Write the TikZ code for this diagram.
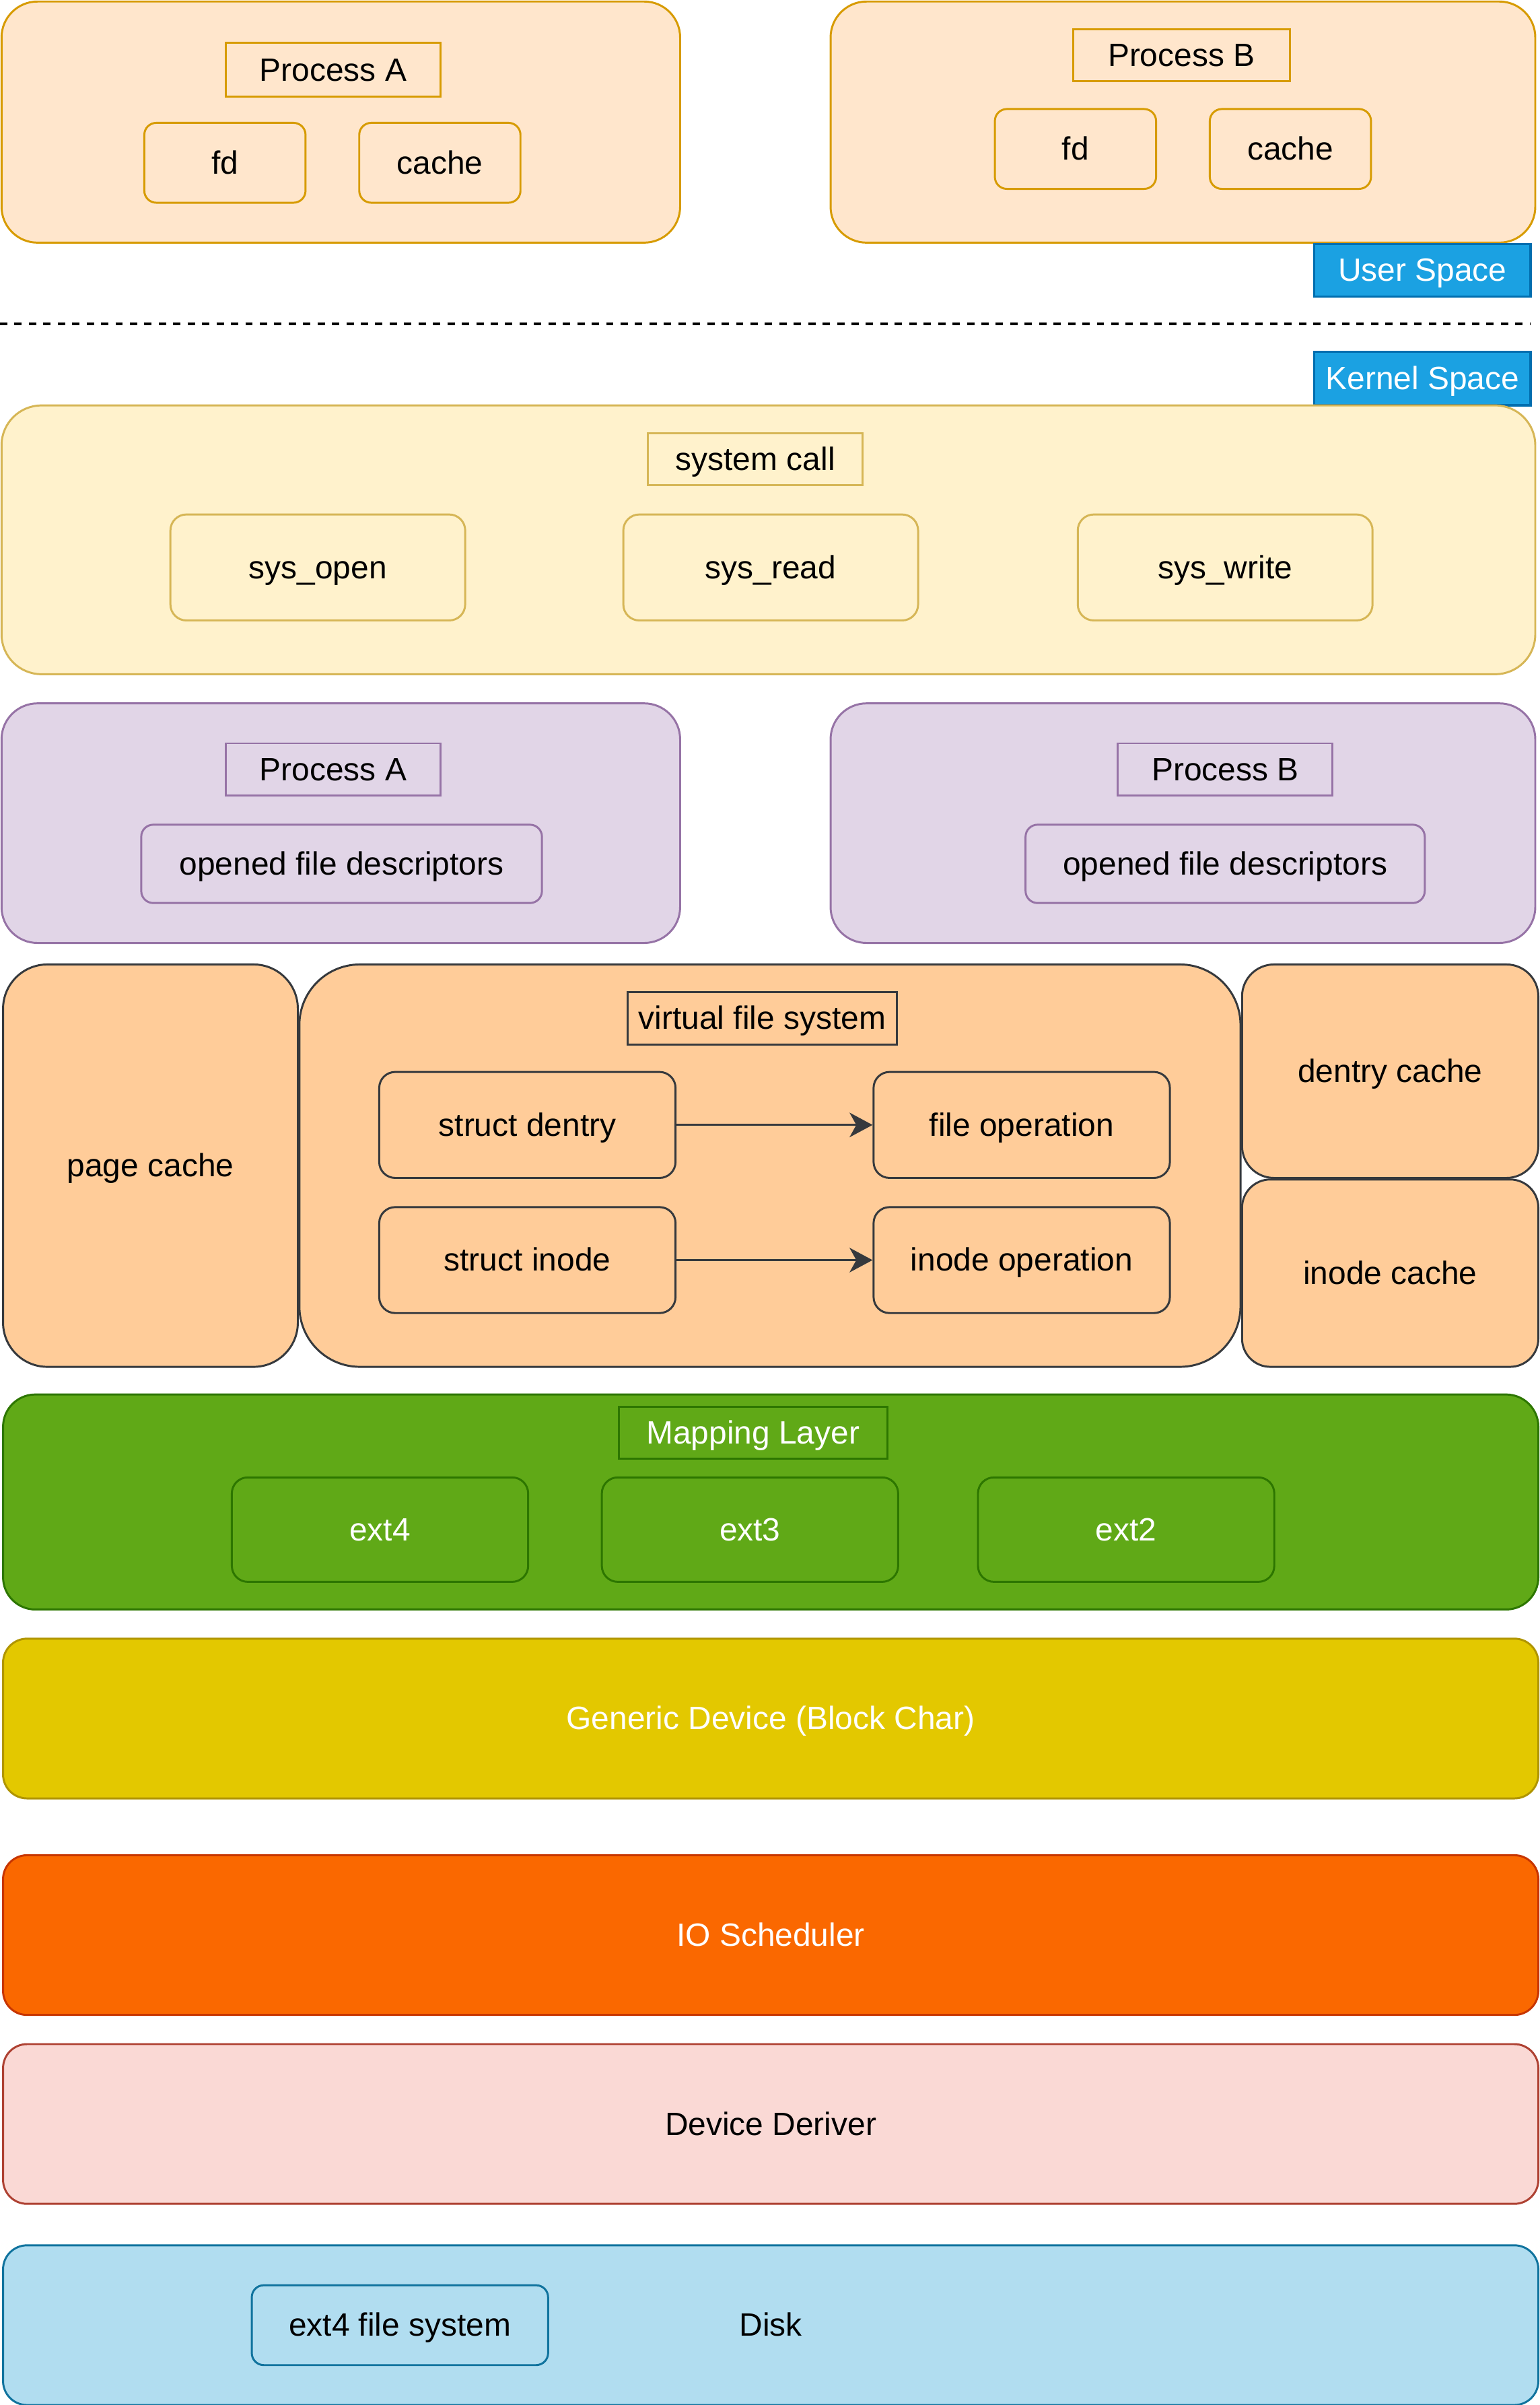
\documentclass[tikz,border=0pt]{standalone}
\usepackage{fontspec}
\setmainfont{Liberation Sans}
\usetikzlibrary{arrows.meta}
\definecolor{usrfill}{HTML}{FFE6CC}
\definecolor{usrline}{HTML}{D79B00}
\definecolor{sysfill}{HTML}{FFF2CC}
\definecolor{sysline}{HTML}{D6B656}
\definecolor{fdfill}{HTML}{E1D5E7}
\definecolor{fdline}{HTML}{9673A6}
\definecolor{vfsfill}{HTML}{FFCC99}
\definecolor{vfsline}{HTML}{36393D}
\definecolor{mapfill}{HTML}{60A917}
\definecolor{mapline}{HTML}{2D7600}
\definecolor{genfill}{HTML}{E3C800}
\definecolor{genline}{HTML}{B09500}
\definecolor{iofill}{HTML}{FA6800}
\definecolor{ioline}{HTML}{C73500}
\definecolor{devfill}{HTML}{FAD9D5}
\definecolor{devline}{HTML}{AE4132}
\definecolor{diskfill}{HTML}{B1DDF0}
\definecolor{diskline}{HTML}{10739E}
\definecolor{spacefill}{HTML}{1BA1E2}
\definecolor{spaceline}{HTML}{006EAF}

\tikzset{sz/.style 2 args={minimum width={#1*0.5pt},minimum height={#2*0.5pt}}}
\tikzstyle{layer}=[draw,rectangle,line width=0.65pt,inner sep=0pt,text height=8.4pt,text depth=1.2pt]
\tikzstyle{outerbox}=[layer,rounded corners=11.7pt]
\tikzstyle{midbox}=[layer,rounded corners=5.2pt]
\tikzstyle{smallbox}=[layer,rounded corners=3.9pt]
\tikzstyle{band}=[layer,rounded corners=7.8pt]
\tikzstyle{title}=[layer]
\tikzstyle{space}=[layer,fill=spacefill,draw=spaceline,text=white,line width=0.75pt]
\tikzstyle{usr}=[fill=usrfill,draw=usrline]
\tikzstyle{sys}=[fill=sysfill,draw=sysline]
\tikzstyle{fds}=[fill=fdfill,draw=fdline]
\tikzstyle{vfs}=[fill=vfsfill,draw=vfsline]
\tikzstyle{map}=[fill=mapfill,draw=mapline,text=white]

\begin{document}
\begin{tikzpicture}[x=0.5pt,y=-0.5pt,font=\fontsize{10.5}{12}\selectfont]
	\useasboundingbox (0,0) rectangle (1003,1566);
	\begin{scope}[>={Stealth[length=7.5pt,width=8pt,inset=2.2pt]}]
		\node (procA)[outerbox,usr,sz={442}{157}] at (222,79.5) {};
		\node (procAt)[title,draw=usrline,sz={140}{35}] at (217,45.5) {Process A};
		\node (fdA)[smallbox,usr,sz={105}{52}] at (146.5,106) {fd};
		\node (cacheA)[smallbox,usr,sz={105}{52}] at (286.5,106) {cache};
		
		\node (procB)[outerbox,usr,sz={459}{157}] at (770.5,79.5) {};
		\node (procBt)[title,draw=usrline,sz={141}{34}] at (769.5,36) {Process B};
		\node (fdB)[smallbox,usr,sz={105}{52}] at (700.5,97) {fd};
		\node (cacheB)[smallbox,usr,sz={105}{52}] at (840.5,97) {cache};
		
		\node (user)[space,sz={141}{34}] at (926.5,176) {User Space};
		\coordinate (splitL) at (0,211);
		\coordinate (splitR) at (997,211);
		\draw[line width=0.9pt,dash pattern=on 2.4pt off 2.3pt] (splitL) -- (splitR);
		\node (kernel)[space,sz={141}{35}] at (926.5,246.5) {Kernel Space};
		
		\node (syscall)[layer,sys,rounded corners=13pt,sz={999}{175}] at (500.5,351.5) {};
		\node (syscallt)[title,draw=sysline,sz={140}{34}] at (492,299) {system call};
		\foreach \nm/\cx in {open/207,read/502,write/798}{
			\node (sys\nm)[midbox,sys,sz={192}{69}] at (\cx,369.5) {sys\_\nm};
		}
		
		\node (fdsA)[outerbox,fds,sz={442}{156}] at (222,536) {};
		\node (fdsAt)[title,draw=fdline,sz={140}{34}] at (217,501) {Process A};
		\node (ofdA)[smallbox,fds,sz={261}{51}] at (222.5,562.5) {opened file descriptors};
		\node (fdsB)[outerbox,fds,sz={459}{156}] at (770.5,536) {};
		\node (fdsBt)[title,draw=fdline,sz={140}{34}] at (798,501) {Process B};
		\node (ofdB)[smallbox,fds,sz={260}{51}] at (798,562.5) {opened file descriptors};
		
		\node (page)[layer,vfs,rounded corners=14.4pt,sz={192}{262}] at (98,759) {page cache};
		\node (vfsys)[layer,vfs,rounded corners=19.7pt,sz={613}{262}] at (501.5,759) {};
		\node (dcache)[layer,vfs,rounded corners=10.4pt,sz={193}{139}] at (905.5,697.5) {dentry cache};
		\node (icache)[layer,vfs,rounded corners=9.2pt,sz={193}{122}] at (905.5,829) {inode cache};
		\node (vfsyst)[title,draw=vfsline,sz={175}{34}] at (496.5,663) {virtual file system};
		\node (sdentry)[midbox,vfs,sz={193}{69}] at (343.5,732.5) {struct dentry};
		\node (fileop)[midbox,vfs,sz={193}{69}] at (665.5,732.5) {file operation};
		\node (sinode)[midbox,vfs,sz={193}{69}] at (343.5,820.5) {struct inode};
		\node (inodeop)[midbox,vfs,sz={193}{69}] at (665.5,820.5) {inode operation};
		\draw[->,line width=0.65pt,vfsline] (sdentry) -- (fileop);
		\draw[->,line width=0.65pt,vfsline] (sinode) -- (inodeop);
		
		\node (mapping)[layer,map,rounded corners=10.5pt,sz={1000}{140}] at (502,978) {};
		\node (mappingt)[title,draw=mapline,text=white,sz={175}{34}] at (490.5,933) {Mapping Layer};
		\foreach \nr/\cx in {4/247.5,3/488.5,2/733.5}{
			\node (ext\nr)[midbox,map,sz={193}{68}] at (\cx,996) {ext\nr};
		}
		
		\node (generic)[band,fill=genfill,draw=genline,text=white,sz={1000}{104}] at (502,1119) {Generic Device (Block Char)};
		\node (iosched)[band,fill=iofill,draw=ioline,text=white,sz={1000}{104}] at (502,1260) {IO Scheduler};
		\node (driver)[band,fill=devfill,draw=devline,sz={1000}{104}] at (502,1383) {Device Deriver};
		\node (disk)[band,fill=diskfill,draw=diskline,sz={1000}{104}] at (502,1514) {Disk};
		\node (ext4fs)[smallbox,fill=diskfill,draw=diskline,sz={193}{52}] at (260.5,1514) {ext4 file system};
	\end{scope}
\end{tikzpicture}
\end{document}
